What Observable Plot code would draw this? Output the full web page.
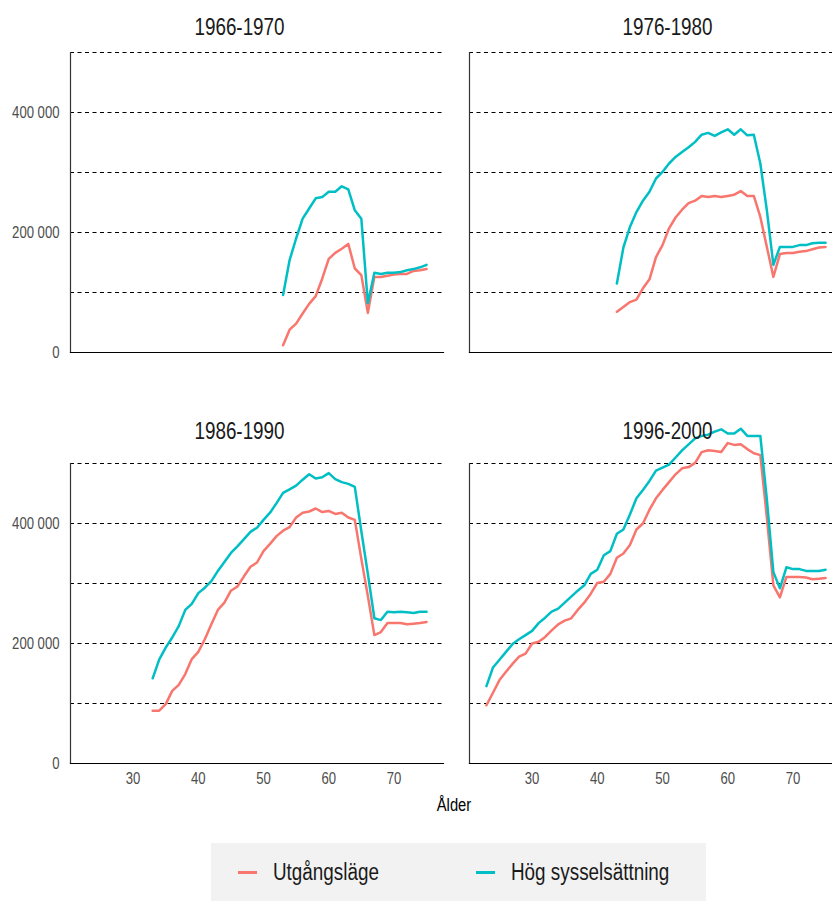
<!DOCTYPE html>
<html><head><meta charset="utf-8">
<script src="https://cdn.jsdelivr.net/npm/d3@7"></script>
<script src="https://cdn.jsdelivr.net/npm/@observablehq/plot@0.6"></script>
<style>
html,body{margin:0;padding:0;background:#fff;overflow:hidden;width:832px;height:901px;}
#wrap{position:relative;width:832px;height:901px;overflow:hidden;font-family:"Liberation Sans",Arial,sans-serif;}
#chart{position:absolute;left:0;top:0;width:842px;}
#chart svg{max-width:none !important;width:842px !important;height:813px !important;}
#xlabel{position:absolute;top:794px;left:454px;transform:translateX(-50%) scaleX(0.82);font-size:18px;color:#000;line-height:22px;white-space:nowrap;}
#legend{position:absolute;left:211px;top:843px;width:495px;height:58px;background:#f2f2f2;}
.item{position:absolute;top:0;height:58px;display:flex;align-items:center;font-size:23px;color:#1a1a1a;white-space:nowrap;}
.item span{display:inline-block;transform:scaleX(0.82);transform-origin:left center;}
.sw{width:19px;height:3px;margin-right:16px;flex:none;}
#chart g[aria-label="y-axis tick label"] text, #chart g[aria-label="x-axis tick label"] text{fill:#4d4d4d;}
</style>
</head><body>
<div id="wrap">
  <div id="chart"></div>
  <div id="xlabel">Ålder</div>
  <div id="legend"></div>
</div>
<script>
// Categories
const periods = ["1966-1970", "1976-1980", "1986-1990", "1996-2000"];
const startAges = [53, 43, 33, 23];
const scenarios = ["Utgångsläge", "Hög sysselsättning"];
const colors = ["#F8766D", "#00BFC4"];

// Values (thousands), one value per age from start age up to 75
const base6670 = [12,38,48,65,81,94,123,156,166,173,181,140,129,66,126,126,128,130,131,131,136,137,139];
const high6670 = [96,154,190,223,240,257,259,268,268,277,272,237,223,82,133,131,133,133,134,137,139,142,146];

const base7680 = [68,76,84,88,107,122,159,179,207,225,238,249,253,261,259,261,259,261,263,269,261,261,226,176,126,164,166,166,168,169,172,175,176];
const high7680 = [115,175,209,234,253,268,290,301,315,326,334,342,351,363,366,361,367,372,363,372,362,363,315,237,146,176,176,176,179,179,182,183,183];

const base8690 = [88,88,99,121,131,149,174,186,207,232,256,268,288,295,312,328,335,354,366,379,388,394,
                  410,418,420,425,419,421,416,418,410,406,341,279,214,219,234,234,234,232,233,234,236];
const high8690 = [142,173,193,210,229,256,266,284,293,304,321,336,351,362,374,386,393,406,418,434,451,457,
                  463,473,482,475,477,484,474,469,466,461,387,316,242,239,253,252,253,252,251,253,253];

const base9600 = [97,118,139,153,166,178,183,200,203,211,222,232,238,242,256,268,
                  283,301,303,316,343,350,364,390,400,423,442,456,469,482,492,494,501,519,522,521,
                  519,534,531,532,524,517,514,410,297,277,311,311,311,310,307,308,309];
const high9600 = [129,160,173,186,199,207,214,221,234,243,253,258,268,278,288,297,
                  316,323,347,354,383,390,415,442,456,471,488,493,498,510,522,532,542,546,548,553,
                  557,550,550,558,546,546,546,440,319,292,327,324,324,321,321,321,323];

// Axis ticks
const yLabelTicks = [0, 200000, 400000];
const yGridTicks = [100000, 200000, 300000, 400000, 500000];
const xTicks = [30, 40, 50, 60, 70];

const baseSeries = [base6670, base7680, base8690, base9600];
const highSeries = [high6670, high7680, high8690, high9600];

const rows = [];
periods.forEach((p, i) => {
  [baseSeries[i], highSeries[i]].forEach((arr, s) => {
    arr.forEach((v, k) => rows.push({
      period: p, col: i % 2, row: Math.floor(i / 2),
      age: startAges[i] + k, value: v * 1000, scenario: scenarios[s]
    }));
  });
});
const titleRows = periods.map((p, i) => ({period: p, col: i % 2, row: Math.floor(i / 2)}));

const fmt = d => d3.format(",")(d).replace(/,/g, " ");
const font = '"Liberation Sans",Arial,sans-serif';

const titleMarks = titleRows.map(t => Plot.text([t], {
  fx: "col", fy: "row", text: "period", frameAnchor: "top",
  dy: t.row === 0 ? -34 : -41, dx: t.col === 0 ? -17.5 : 11.5,
  fontSize: 23, fill: "#1a1a1a"
}));

const chart = Plot.plot({
  width: 842, height: 813,
  marginLeft: 70, marginRight: 0, marginTop: 52, marginBottom: 50,
  style: {fontFamily: font, background: "transparent", overflow: "visible"},
  fx: {axis: null, domain: [0, 1], paddingInner: 26 / 399, paddingOuter: 0},
  fy: {axis: null, domain: [0, 1], paddingInner: 111 / 411, paddingOuter: 0},
  x: {domain: [20.4, 77.6], label: null},
  y: {domain: [0, 500000], label: null},
  color: {domain: scenarios, range: colors},
  marks: [
    Plot.gridY(yGridTicks, {stroke: "#000", strokeOpacity: 1, strokeWidth: 1, strokeDasharray: "4,3.5"}),
    Plot.frame({anchor: "left", stroke: "#333", strokeWidth: 1.2}),
    Plot.frame({anchor: "bottom", stroke: "#000", strokeWidth: 1.2}),
    Plot.axisY(yLabelTicks, {tickSize: 0, tickPadding: 11, tickFormat: fmt, fontSize: 16, label: null}),
    Plot.axisX(xTicks, {tickSize: 0, tickPadding: 9, fontSize: 16, label: null}),
    Plot.lineY(rows, {x: "age", y: "value", z: "scenario", stroke: "scenario", fx: "col", fy: "row", strokeWidth: 2.5}),
    ...titleMarks
  ]
});
document.getElementById("chart").appendChild(chart);

// Condense all SVG text horizontally (narrow typeface look)
chart.querySelectorAll("text").forEach(t => {
  const x = parseFloat(t.getAttribute("x")) || 0;
  const tr = t.getAttribute("transform") || "";
  t.setAttribute("transform", `${tr} translate(${x},0) scale(0.82,1) translate(${-x},0)`);
});

const legend = document.getElementById("legend");
const lefts = [27, 265];
scenarios.forEach((s, i) => {
  const item = document.createElement("div");
  item.className = "item";
  item.style.left = lefts[i] + "px";
  const sw = document.createElement("div");
  sw.className = "sw";
  sw.style.background = colors[i];
  const tx = document.createElement("span");
  tx.textContent = s;
  item.appendChild(sw);
  item.appendChild(tx);
  legend.appendChild(item);
});
</script>
</body></html>
